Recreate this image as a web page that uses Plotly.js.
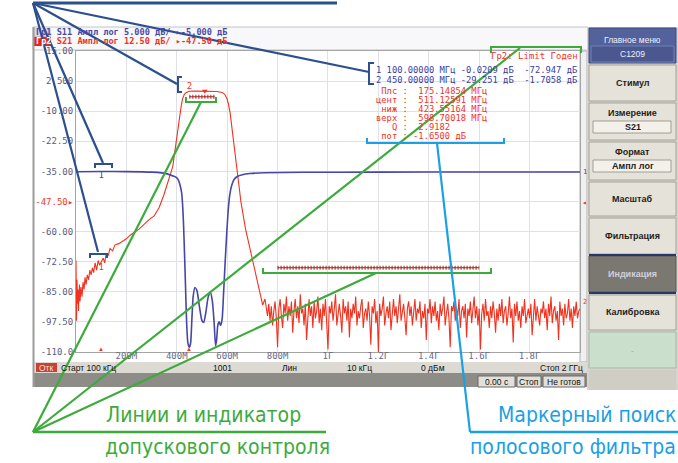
<!DOCTYPE html>
<html><head><meta charset="utf-8">
<script src="https://cdn.plot.ly/plotly-3.0.1.min.js"></script>
<style>html,body{margin:0;padding:0;background:#fff;}#chart{width:678px;height:463px;}</style>
</head><body><div id="chart"></div>
<script>
const W=678,H=463;
const X=p=>p/W, Y=p=>1-p/H;

// S21, МГц / дБ
const s21Freq=[0.1,2,4,6,8,10,12,14,16,18,20,24,28,32,36,40,45,50,55,60,65,70,76,82,88,94,100,108,114,120,128,135,145,155,170,185,200,215,230,250,270,290,310,330,348,365,384,396,405,412,418,423.5,430,438,450,470,500,530,560,580,590,598.7,605,612,620,630,641,655,673,690,701,715,725,733,741];
const s21Val=[-72,-97,-80,-90,-84,-93,-86,-82,-89,-85,-83,-87,-81,-84,-79,-82,-78,-80,-76,-78,-75,-77,-73,-76,-72,-74,-72.9,-71,-73,-69,-70,-67,-68,-65.5,-65,-64,-63,-61.5,-60.5,-59,-57,-55,-53.5,-50,-45,-39,-33,-24,-17,-11,-7.5,-4.65,-3.0,-2.2,-1.71,-1.65,-1.7,-1.75,-1.85,-2.2,-3.0,-4.65,-7,-11,-18,-28,-37,-48,-59,-67,-72,-79,-84,-88,-90.5];
const s21NoiseFreq=[750,755,760,765,770,775,780,785,790,795,
800,805,810,815,820,825,830,835,840,845,
850,855,860,865,870,875,880,885,890,895,
900,905,910,915,920,925,930,935,940,945,
950,955,960,965,970,975,980,985,990,995,
1000,1005,1010,1015,1020,1025,1030,1035,1040,1045,
1050,1055,1060,1065,1070,1075,1080,1085,1090,1095,
1100,1105,1110,1115,1120,1125,1130,1135,1140,1145,
1150,1155,1160,1165,1170,1175,1180,1185,1190,1195,
1200,1205,1210,1215,1220,1225,1230,1235,1240,1245,
1250,1255,1260,1265,1270,1275,1280,1285,1290,1295,
1300,1305,1310,1315,1320,1325,1330,1335,1340,1345,
1350,1355,1360,1365,1370,1375,1380,1385,1390,1395,
1400,1405,1410,1415,1420,1425,1430,1435,1440,1445,
1450,1455,1460,1465,1470,1475,1480,1485,1490,1495,
1500,1505,1510,1515,1520,1525,1530,1535,1540,1545,
1550,1555,1560,1565,1570,1575,1580,1585,1590,1595,
1600,1605,1610,1615,1620,1625,1630,1635,1640,1645,
1650,1655,1660,1665,1670,1675,1680,1685,1690,1695,
1700,1705,1710,1715,1720,1725,1730,1735,1740,1745,
1750,1755,1760,1765,1770,1775,1780,1785,1790,1795,
1800,1805,1810,1815,1820,1825,1830,1835,1840,1845,
1850,1855,1860,1865,1870,1875,1880,1885,1890,1895,
1900,1905,1910,1915,1920,1925,1930,1935,1940,1945,
1950,1955,1960,1965,1970,1975,1980,1985,1990,1995,2000];
const s21NoiseVal=[-88,-92,-95,-90,-97,-91,-99,-93,-89,-96,
-108,-92,-88,-95,-100,-90,-94,-87,-97,-91,
-95,-89,-102,-93,-88,-96,-91,-98,-86,-94,
-92,-99,-90,-105,-94,-88,-95,-91,-100,-89,
-96,-93,-87,-98,-92,-101,-90,-95,-88,-97,
-109,-91,-94,-89,-97,-92,-86,-99,-93,-90,
-95,-102,-88,-94,-91,-97,-89,-104,-92,-96,
-90,-94,-87,-99,-93,-96,-91,-88,-100,-94,
-92,-97,-89,-95,-107,-91,-94,-88,-98,-93,
-110,-90,-95,-92,-87,-99,-94,-91,-96,-89,
-101,-93,-88,-95,-91,-98,-92,-86,-97,-94,
-90,-96,-103,-92,-89,-95,-91,-99,-93,-88,
-97,-92,-94,-89,-100,-93,-96,-90,-105,-92,
-94,-88,-98,-91,-95,-89,-97,-93,-101,-90,
-95,-92,-87,-99,-94,-90,-96,-108,-91,-93,
-89,-97,-92,-95,-88,-100,-93,-91,-96,-90,
-104,-92,-95,-89,-98,-93,-87,-96,-91,-99,
-92,-109,-94,-90,-97,-88,-95,-93,-100,-91,
-96,-89,-94,-102,-92,-97,-90,-95,-88,-98,
-93,-91,-99,-94,-87,-96,-92,-106,-90,-95,
-89,-97,-93,-100,-91,-95,-88,-98,-94,-92,
-96,-90,-103,-93,-88,-97,-91,-95,-99,-92,
-94,-89,-96,-92,-101,-90,-95,-87,-98,-93,
-91,-97,-93,-105,-89,-95,-92,-99,-90,-96,
-94,-88,-97,-92,-100,-91,-95,-89,-96,-93,-92];
// S11, МГц / дБ
const s11Freq=[0.1,100,200,300,340,365,385,398,406,413,419,423,427,431,435,439,444,450,455,460,465,472,480,490,500,507,515,525,533,541,548,554,558,563,568,574,580,586,592,598,604,610,618,628,640,660,690,750,900,1200,1600,2000];
const s11Val=[-0.05,-0.02,-0.03,-0.12,-0.25,-0.45,-0.75,-1.0,-1.4,-2.3,-3.5,-5.5,-9,-14,-19.5,-25,-28.5,-29.25,-28.5,-24.5,-20.8,-19.3,-19.8,-22.5,-24.8,-25.1,-23.5,-20.8,-20.1,-21.5,-25,-29,-28,-25.5,-25,-25.6,-24.5,-20,-15,-10.5,-6.5,-4.0,-2.3,-1.3,-0.85,-0.55,-0.35,-0.22,-0.15,-0.12,-0.1,-0.1];
// limit lines
const limPassFreq=[450,550], limPassVal=[-4,-4];
const limStopFreq=[800,1600], limStopVal=[-75,-75];
// markers
const mkFreq=[100,450], mkS11=[-0.0209,-29.251], mkS21=[-72.947,-1.7058];
const bwCenterFreq=[511.12591], bwCenterVal=[-1.65];
// ticks
const yTickVals=[15,2.5,-10,-22.5,-35,-47.5,-60,-72.5,-85,-97.5,-110];
const yTickText=['15.00','2.500','-10.00','-22.50','-35.00','<span style="color:#ee3a28">-47.50▸</span>','-60.00','-72.50','-85.00','-97.50','-110.0'];
const xTickVals=[200,400,600,800,1000,1200,1400,1600,1800];
const xTickText=['200M','400M','600M','800M','1Г','1.2Г','1.4Г','1.6Г','1.8Г'];

const red='#f2321f', blue='#4646aa', navy='#2c4f8e', green='#3cab3c', cyan='#1aa0e4', limRed='#a8201c';
const mono='DejaVu Sans Mono';

const traces=[
 {x:s11Freq,y:s11Val,yaxis:'y2',mode:'lines',line:{color:blue,width:1.6,shape:'spline',smoothing:0.6}},
 {x:s21Freq.concat(s21NoiseFreq),y:s21Val.concat(s21NoiseVal),mode:'lines',line:{color:red,width:1.1}},
 {x:limPassFreq,y:limPassVal,mode:'lines',line:{color:limRed,width:1}},
 {x:limPassFreq,y:limPassVal,mode:'lines',line:{color:limRed,width:4,dash:'1px,2px'}},
 {x:limStopFreq,y:limStopVal,mode:'lines',line:{color:limRed,width:1}},
 {x:limStopFreq,y:limStopVal,mode:'lines',line:{color:limRed,width:4,dash:'1px,2px'}},
 {x:[mkFreq[0]],y:[mkS11[0]],yaxis:'y2',mode:'text',text:['1'],textposition:'bottom center',textfont:{family:mono,size:9,color:blue}},
 {x:mkFreq,y:mkS21,mode:'text',text:['1','2'],textposition:['bottom center','top center'],textfont:{family:mono,size:9,color:red}},
 {x:bwCenterFreq,y:bwCenterVal,mode:'markers',marker:{symbol:'triangle-down',size:5,color:red}}
];

const rect=(x0,y0,x1,y1,fill,lc,lw)=>({type:'rect',layer:'below',xref:'paper',yref:'paper',x0:X(x0),x1:X(x1),y0:Y(y0),y1:Y(y1),fillcolor:fill,line:{color:lc||fill,width:lw===undefined?0:lw}});
const seg=(x0,y0,x1,y1,c,w)=>({type:'line',xref:'paper',yref:'paper',x0:X(x0),y0:Y(y0),x1:X(x1),y1:Y(y1),line:{color:c,width:w}});
const path=(pts,c,w)=>({type:'path',xref:'paper',yref:'paper',path:'M'+pts.map(p=>X(p[0]).toFixed(5)+','+Y(p[1]).toFixed(5)).join(' L'),line:{color:c,width:w}});
const txt=(x,y,t,o)=>Object.assign({xref:'paper',yref:'paper',x:X(x),y:Y(y),text:t,showarrow:false,xanchor:'left',yanchor:'middle',borderpad:0,font:{family:mono,size:9,color:'#333'}},o||{});

const shapes=[
 rect(33,27,588,50,'#f8f8fa','#c4c4c4',1),
 rect(34,36.5,51,46,'#e2281c'),
 rect(34,27.5,51,36.5,'#d6d6e4'),
 rect(580,51,587,362,'#f0f0f0','#b0b0b0',1),
 rect(33,362,587,373,'#dcdad2'),
 rect(36,363,57,372,'#cc4034'),
 rect(33,373,587,387,'#8e8c86'),
 rect(478,376,515,387,'#e2e0d8','#6a6a6a',1),
 rect(517,376,541,387,'#e2e0d8','#6a6a6a',1),
 rect(543,376,585,387,'#e2e0d8','#6a6a6a',1),
 rect(587,27,678,390,'#d6d4cc'),
 rect(589,28,676,63,'#53629c','#3e4c84',1),
 rect(591,46,674,62,'#4b5890','#7080b6',1),
 rect(589,65,676,101,'#e5e2d9','#a6a39a',1),
 rect(589,103,676,140,'#e5e2d9','#a6a39a',1),
 rect(593,121,671,133,'#f3f1ea','#a09d94',1),
 rect(589,142,676,180,'#e5e2d9','#a6a39a',1),
 rect(593,160,671,172,'#f3f1ea','#a09d94',1),
 rect(589,182,676,216,'#e5e2d9','#a6a39a',1),
 rect(589,218,676,254,'#e5e2d9','#a6a39a',1),
 rect(589,256,676,292,'#7a7870','#5a5850',1),
 rect(589,295,676,330,'#e5e2d9','#a6a39a',1),
 rect(589,332,676,368,'#cae0cd','#a8b8aa',1),
 rect(589,370,676,390,'#d0cdc4'),
 seg(33.5,27,33.5,387,'#9c9c9c',2),
 seg(589,255,676,255,'#28386e',2),
 seg(589,293,676,293,'#28386e',2),
 // navy callouts
 seg(33,3,337,3,navy,3),
 seg(33,3,98,252,navy,2.2),
 seg(33,3,103,163,navy,2.2),
 seg(33,3,177,84,navy,2.2),
 seg(33,3,369,72,navy,2.2),
 path([[95,168],[95,164],[112,164],[112,168]],navy,2),
 path([[90,258],[90,254],[107,254],[107,258]],navy,2),
 path([[182,77],[178,77],[178,92],[182,92]],navy,2),
 path([[374,63],[369,63],[369,84],[374,84]],navy,2),
 // green callouts
 seg(33,432,326,432,green,2.5),
 seg(33,432,201,102,green,2.2),
 seg(33,432,520,48,green,2.2),
 seg(33,432,376,273,green,2.2),
 path([[186,97],[186,102],[216,102],[216,97]],green,2),
 path([[263,268],[263,273],[491,273],[491,268]],green,2),
 path([[491,53],[491,47],[581,47],[581,53]],green,2),
 // cyan callouts
 seg(470,432,678,432,cyan,2.5),
 seg(470,432,437,143,cyan,2.2),
 path([[367,138],[367,143],[504,143],[504,138]],cyan,2)
];

const btnFont={family:'Liberation Sans',size:9,color:'#1e1e1e'};
const sb={family:'Liberation Sans',size:8.5,color:'#111'};
const cx=632.5;
const nb=s=>s.replace(/ /g,'\u00A0');
const cap='DejaVu Sans Condensed, DejaVu Sans';
const annotations=[
 txt(35,32,'<b>'+nb('Гр1 S11 Ампл лог 5.000 дБ/ ▸-5.000 дБ')+'</b>',{font:{family:mono,size:8.6,color:'#4a4aa6'}}),
 txt(35,41,'<b><span style="color:#ffffff">Гр2</span>'+nb(' S21 Ампл лог 12.50 дБ/ ▸-47.50 дБ')+'</b>',{font:{family:mono,size:8.6,color:red}}),
 txt(579,56,nb('Гр2: Limit Годен'),{xanchor:'right',font:{family:mono,size:9,color:red}}),
 txt(375,70,nb('1 100.00000 МГц -0.0209 дБ  -72.947 дБ'),{font:{family:mono,size:8.8,color:'#3c3ca0'}}),
 txt(375,80,nb('2 450.00000 МГц -29.251 дБ  -1.7058 дБ'),{font:{family:mono,size:8.8,color:'#3c3ca0'}}),
 txt(375,91,nb(' Плс :  175.14854 МГц'),{font:{family:mono,size:8.8,color:red}}),
 txt(375,100,nb('цент :  511.12591 МГц'),{font:{family:mono,size:8.8,color:red}}),
 txt(375,109,nb(' ниж :  423.55164 МГц'),{font:{family:mono,size:8.8,color:red}}),
 txt(375,118,nb('верх :  598.70018 МГц'),{font:{family:mono,size:8.8,color:red}}),
 txt(375,127,nb('   Q :  2.9182'),{font:{family:mono,size:8.8,color:red}}),
 txt(375,136,nb(' пот : -1.6500 дБ'),{font:{family:mono,size:8.8,color:red}}),
 txt(582,172,'1',{font:{family:mono,size:7,color:blue}}),
 txt(581,202,'◂',{font:{family:mono,size:8,color:red}}),
 txt(582,302,'2',{font:{family:mono,size:7,color:red}}),
 {xref:'x',yref:'paper',x:mkFreq[0],y:Y(355),text:'▲',showarrow:false,font:{size:6,color:red}},
 {xref:'x',yref:'paper',x:mkFreq[1],y:Y(355),text:'▲',showarrow:false,font:{size:6,color:red}},
 txt(46.5,367.5,'Отк',{xanchor:'center',font:{family:'Liberation Sans',size:8.5,color:'#f4e0dc'}}),
 txt(60,367.5,'Старт 100 кГц',{font:sb}),
 txt(223,367.5,'1001',{xanchor:'center',font:sb}),
 txt(289,367.5,'Лин',{xanchor:'center',font:sb}),
 txt(359,367.5,'10 кГц',{xanchor:'center',font:sb}),
 txt(433,367.5,'0 дБм',{xanchor:'center',font:sb}),
 txt(584,367.5,'Стоп 2 ГГц',{xanchor:'right',font:sb}),
 txt(496.5,381.5,'0.00 с',{xanchor:'center',font:sb}),
 txt(529,381.5,'Стоп',{xanchor:'center',font:sb}),
 txt(564,381.5,'Не готов',{xanchor:'center',font:sb}),
 txt(cx,40,'Главное меню',{xanchor:'center',font:{family:'Liberation Sans',size:8.5,color:'#eef0fa'}}),
 txt(cx,54,'С1209',{xanchor:'center',font:{family:'Liberation Sans',size:8.5,color:'#eef0fa'}}),
 txt(cx,83,'<b>Стимул</b>',{xanchor:'center',font:btnFont}),
 txt(cx,113,'<b>Измерение</b>',{xanchor:'center',font:btnFont}),
 txt(cx,127,'<b>S21</b>',{xanchor:'center',font:btnFont}),
 txt(cx,152,'<b>Формат</b>',{xanchor:'center',font:btnFont}),
 txt(cx,166,'<b>Ампл лог</b>',{xanchor:'center',font:btnFont}),
 txt(cx,199,'<b>Масштаб</b>',{xanchor:'center',font:btnFont}),
 txt(cx,236,'<b>Фильтрация</b>',{xanchor:'center',font:btnFont}),
 txt(cx,274,'<b>Индикация</b>',{xanchor:'center',font:{family:'Liberation Sans',size:9,color:'#cfd0dc'}}),
 txt(cx,312,'<b>Калибровка</b>',{xanchor:'center',font:btnFont}),
 txt(cx,350,'-',{xanchor:'center',font:{family:'Liberation Sans',size:8,color:'#9aa89c'}}),
 txt(105,415,'Линии и индикатор',{font:{family:cap,size:21,color:green}}),
 txt(104,447,'допускового контроля',{font:{family:cap,size:21,color:green}}),
 txt(677,415,'Маркерный поиск',{xanchor:'right',font:{family:cap,size:21,color:cyan}}),
 txt(677,447,'полосового фильтра',{xanchor:'right',font:{family:cap,size:21,color:cyan}})
];

const layout={
 width:W,height:H,margin:{l:0,r:0,t:0,b:0,pad:0},paper_bgcolor:'#ffffff',plot_bgcolor:'#ffffff',
 showlegend:false,hovermode:false,
 xaxis:{domain:[X(76),X(580)],range:[0.1,2000],tickvals:xTickVals,ticktext:xTickText,showgrid:true,gridcolor:'#e0e0e8',gridwidth:1,
  zeroline:false,showline:true,mirror:true,linecolor:'#a4a4a4',linewidth:1,ticks:'',automargin:false,fixedrange:true,ticklabelstandoff:-5,
  tickfont:{family:mono,size:9,color:'#6a6a86'}},
 yaxis:{domain:[Y(352),Y(51)],range:[-110,15],tickvals:yTickVals,ticktext:yTickText,showgrid:true,gridcolor:'#e0e0e8',gridwidth:1,
  zeroline:false,showline:true,mirror:true,linecolor:'#a4a4a4',linewidth:1,ticks:'',automargin:false,fixedrange:true,
  tickfont:{family:mono,size:9,color:'#5a5a7c'}},
 yaxis2:{overlaying:'y',range:[-30,20],visible:false,fixedrange:true},
 shapes:shapes,annotations:annotations
};
Plotly.newPlot('chart',traces,layout,{staticPlot:true,displayModeBar:false});
</script></body></html>
